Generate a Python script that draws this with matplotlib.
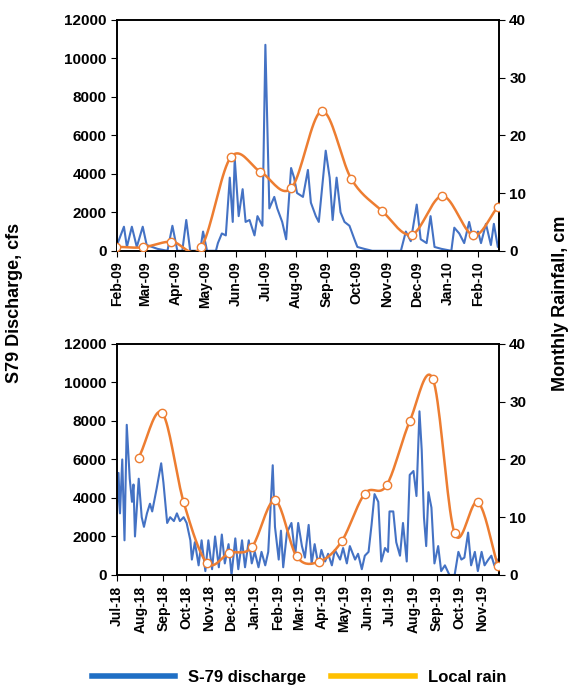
import numpy as np
import pandas as pd
import matplotlib
matplotlib.use("Agg")
import matplotlib.pyplot as plt
import matplotlib.dates as mdates
from matplotlib.lines import Line2D

plt.rcParams['font.family'] = ['Liberation Sans', 'DejaVu Sans']
plt.rcParams['font.weight'] = 'bold'

BLUE = '#4472C4'
ORANGE = '#ED7D31'

# ---- 2009-2010 panel ----
q1_days = [0, 7, 10, 15, 20, 26, 30, 41, 51, 56, 61, 66, 70, 74, 84, 87, 91, 100, 102, 106,
           110, 114, 117, 119, 123, 127, 130, 134, 139, 142, 147, 150, 154, 159, 162, 167, 171,
           176, 179, 182, 188, 193, 196, 201, 204, 211, 215, 218, 222, 226, 230, 235, 240, 243,
           250, 258, 274, 287, 292, 297, 303, 307, 313, 317, 321, 328, 338, 341, 346, 351, 356,
           360, 365, 368, 373, 378, 381, 385, 387]
q1_vals = [300, 1250, 200, 1250, 200, 1250, 300, 100, 0, 1300, 0, 0, 1600, 0, 0, 1000, 0, 0, 400, 900,
           800, 3800, 1500, 4800, 1800, 3200, 1500, 1600, 800, 1800, 1300, 10700, 2200, 2800, 2200, 1500, 600,
           4300, 3800, 3000, 2800, 4200, 2500, 1800, 1500, 5200, 3800, 1600, 3800, 2000, 1500, 1300, 600, 200,
           100, 0, 0, 0, 1000, 500, 2400, 600, 400, 1800, 200, 100, 0, 1200, 900, 400, 1500,
           600, 1000, 400, 1400, 300, 1400, 200, 200]
rain1_dates = ['2009-01-31', '2009-02-27', '2009-03-28', '2009-04-27', '2009-05-27', '2009-06-26',
               '2009-07-27', '2009-08-27', '2009-09-26', '2009-10-27', '2009-11-26', '2009-12-27',
               '2010-01-27', '2010-02-21']
rain1_vals = [0.7, 0.6, 1.6, 0.6, 16.2, 13.7, 10.8, 24.2, 12.4, 6.9, 2.8, 9.5, 2.7, 7.6]

# ---- 2018-2019 panel ----
q2_days = [0, 2, 4, 7, 10, 13, 17, 20, 22, 24, 29, 33, 36, 40, 44, 47, 53, 59, 62, 67, 71, 76, 80,
           84, 89, 93, 98, 100, 104, 109, 113, 118, 122, 127, 131, 136, 140, 144, 149, 153, 158, 162,
           167, 171, 176, 180, 184, 189, 193, 198, 202, 208, 211, 216, 219, 222, 227, 233, 238, 242,
           247, 251, 256, 260, 264, 269, 273, 278, 282, 287, 291, 298, 302, 307, 311, 318, 322, 327,
           331, 336, 340, 344, 349, 353, 358, 362, 364, 369, 373, 378, 382, 387, 391, 396, 400, 404,
           407, 410, 413, 416, 420, 424, 429, 433, 438, 444, 451, 456, 460, 464, 469, 473, 478, 482,
           487, 491, 496, 500, 504, 509]
q2_vals = [3200, 5300, 3200, 6000, 1800, 7800, 5000, 3800, 4700, 2000, 5000, 3000, 2500, 3200, 3700, 3300,
           4500, 5800, 4800, 2700, 3000, 2800, 3200, 2800, 3000, 2700, 1800, 800, 1700, 500, 1800, 200,
           1800, 300, 2000, 400, 2100, 600, 1600, 0, 1900, 300, 1800, 400, 1800, 600, 1200, 400, 1200,
           500, 1200, 5700, 2500, 800, 2300, 400, 2200, 2700, 1000, 2700, 1500, 900, 2600, 600, 1600,
           500, 1300, 700, 1100, 500, 1300, 800, 1400, 600, 1500, 800, 1100, 300, 1000, 1200, 2600,
           4200, 3800, 700, 1400, 1200, 3300, 3300, 1700, 1000, 2700, 700, 5200, 5400, 4100, 8500,
           6500, 3000, 1500, 4300, 3500, 600, 1500, 200, 500, 0, 0, 1200, 800, 900, 2200, 500, 1200,
           200, 1200, 500, 800, 1000, 500, 800]
rain2_dates = ['2018-07-30', '2018-08-30', '2018-09-28', '2018-10-29', '2018-11-28', '2018-12-28',
               '2019-01-28', '2019-02-26', '2019-03-28', '2019-04-27', '2019-05-28', '2019-06-26',
               '2019-07-27', '2019-08-27', '2019-09-25', '2019-10-26', '2019-11-22']
rain2_vals = [20.3, 28.1, 12.6, 2.1, 3.8, 4.8, 12.9, 3.2, 2.3, 5.8, 14.1, 15.5, 26.6, 33.9, 7.2, 12.6, 1.5]


def smooth(x, y, n=20):
    # Catmull-Rom curve through the points, like a spreadsheet "smoothed line"
    x = np.asarray(x, float)
    y = np.asarray(y, float)
    px = np.concatenate([[2 * x[0] - x[1]], x, [2 * x[-1] - x[-2]]])
    py = np.concatenate([[2 * y[0] - y[1]], y, [2 * y[-1] - y[-2]]])
    t = np.linspace(0, 1, n)
    xs, ys = [], []
    for i in range(1, len(px) - 2):
        for p, out in ((px, xs), (py, ys)):
            p0, p1, p2, p3 = p[i - 1], p[i], p[i + 1], p[i + 2]
            out.append(0.5 * (2 * p1 + (-p0 + p2) * t + (2 * p0 - 5 * p1 + 4 * p2 - p3) * t ** 2
                              + (-p0 + 3 * p1 - 3 * p2 + p3) * t ** 3))
    return np.concatenate(xs), np.concatenate(ys)


fig = plt.figure(figsize=(5.75, 6.89), dpi=100)
panels = [
    ([0.2035, 0.636, 0.664, 0.3353], '2009-02-01', '2010-02-22', q1_days, q1_vals, rain1_dates, rain1_vals),
    ([0.2035, 0.1655, 0.664, 0.3353], '2018-07-01', '2019-11-23', q2_days, q2_vals, rain2_dates, rain2_vals),
]
for rect, start, end, qd, qv, rd, rv in panels:
    ax = fig.add_axes(rect)
    t0 = pd.Timestamp(start)
    qdates = [t0 + pd.Timedelta(days=d) for d in qd]
    ax.plot(qdates, qv, color=BLUE, lw=1.5, zorder=2)
    ax.set_ylim(0, 12000)
    ax.set_yticks(range(0, 12001, 2000))
    ax.set_xlim(t0, pd.Timestamp(end))
    ax.xaxis.set_major_locator(mdates.MonthLocator())
    ax.xaxis.set_major_formatter(mdates.DateFormatter('%b-%y'))
    ax.tick_params(axis='x', labelrotation=90, labelsize=10, direction='out', length=4)
    ax.tick_params(axis='y', labelsize=11, direction='out', length=4)
    for lab in ax.get_xticklabels() + ax.get_yticklabels():
        lab.set_fontweight('bold')

    ax2 = ax.twinx()
    rdates = mdates.date2num(pd.to_datetime(rd))
    sx, sy = smooth(rdates, rv)
    ax2.plot(sx, sy, color=ORANGE, lw=1.8, zorder=3)
    ax2.plot(rdates, rv, 'o', ms=6, mfc='white', mec=ORANGE, mew=1.0, zorder=4)
    ax2.set_ylim(0, 40)
    ax2.set_yticks(range(0, 41, 10))
    ax2.set_xlim(t0, pd.Timestamp(end))
    ax2.tick_params(axis='y', labelsize=11, direction='out', length=4)
    for lab in ax2.get_yticklabels():
        lab.set_fontweight('bold')
    for a in (ax, ax2):
        for s in a.spines.values():
            s.set_linewidth(1.2)

fig.text(0.025, 0.56, 'S79 Discharge, cfs', rotation=90, va='center', ha='center',
         fontsize=13, fontweight='bold')
fig.text(0.975, 0.56, 'Monthly Rainfall, cm', rotation=90, va='center', ha='center',
         fontsize=13, fontweight='bold')

handles = [Line2D([], [], color='#1F6FC5', lw=4), Line2D([], [], color='#FFC000', lw=4)]
fig.legend(handles, ['S-79 discharge', 'Local rain'], loc='center', bbox_to_anchor=(0.52, 0.017),
           ncol=2, frameon=False, prop={'weight': 'bold', 'size': 12}, handlelength=5,
           columnspacing=1.5)

fig.savefig('out.png', dpi=100)
